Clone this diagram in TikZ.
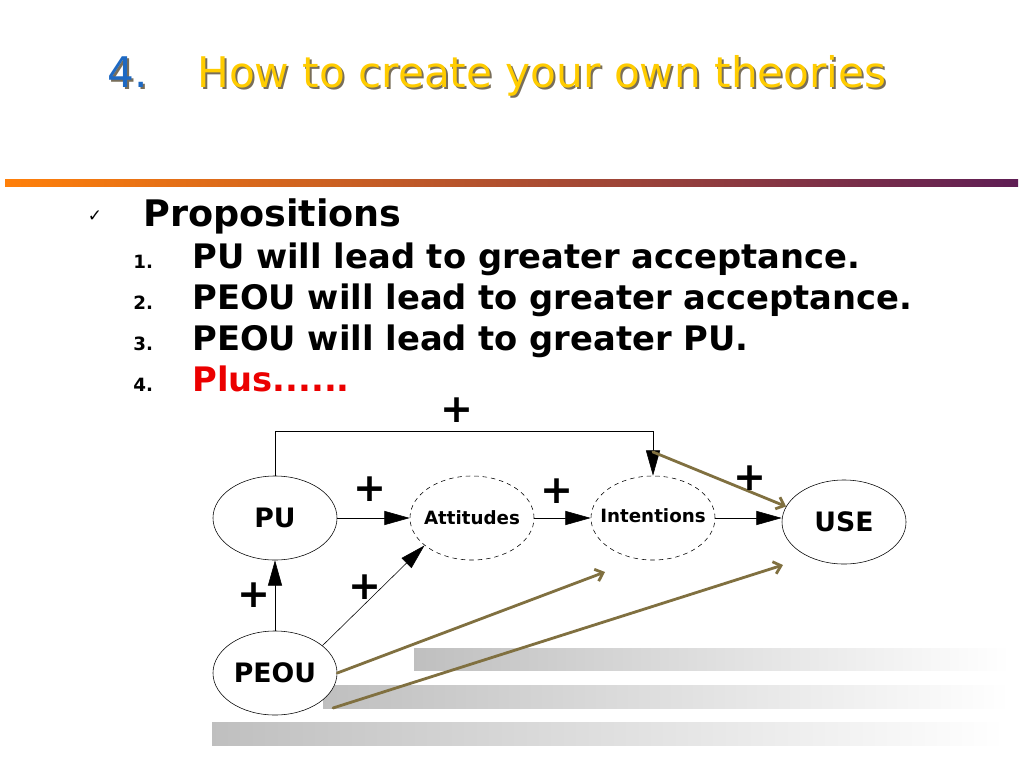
\documentclass[tikz,border=0pt]{standalone}
\usepackage{fontspec}
\setmainfont{DejaVu Sans}
\usetikzlibrary{arrows.meta,shapes.geometric}
\definecolor{titleyellow}{RGB}{255,204,0}
\definecolor{numblue}{RGB}{30,105,195}
\definecolor{shadowgray}{RGB}{120,110,90}
\definecolor{lineorange}{RGB}{255,128,10}
\definecolor{linemid}{RGB}{190,90,70}
\definecolor{linepurple}{RGB}{95,30,85}
\definecolor{arrowolive}{RGB}{128,112,64}
\definecolor{plusred}{RGB}{235,0,0}

\begin{document}
\begin{tikzpicture}[x=0.025cm,y=-0.025cm,>={Triangle[length=18pt,width=10pt]},line cap=round,
  ell/.style={ellipse,draw,minimum width=3.1cm,minimum height=2.1cm,inner sep=0pt,inner xsep=-15pt},
  big/.style={font=\bfseries\fontsize{19}{19}\selectfont},
  small/.style={font=\bfseries\fontsize{13}{13}\selectfont},
  plus/.style={font=\bfseries\fontsize{28}{28}\selectfont,inner sep=0pt},
  item/.style={anchor=base west,inner sep=0pt,font=\bfseries\fontsize{24}{24}\selectfont},
  num/.style={anchor=base west,inner sep=0pt,font=\bfseries\fontsize{13}{13}\selectfont},
  olive/.style={draw=arrowolive,line width=2pt,-{Straight Barb[length=5pt,width=9pt]}}]
\useasboundingbox (0,0) rectangle (1024,768);
% title
\node[anchor=base west,inner sep=0pt,text=shadowgray,font=\fontsize{30}{30}\selectfont] (titshadow) at (199,90) {How to create your own theories};
\node[anchor=base west,inner sep=0pt,text=titleyellow,font=\fontsize{30}{30}\selectfont] (title) at (197,88) {How to create your own theories};
\node[anchor=base west,inner sep=0pt,text=shadowgray,font=\fontsize{30}{30}\selectfont] (numshadow) at (109,90) {4.};
\node[anchor=base west,inner sep=0pt,text=numblue,font=\fontsize{30}{30}\selectfont] (titnum) at (107,88) {4.};
\shade[left color=lineorange,middle color=linemid,right color=linepurple] (5,179) rectangle (1018,186);
% propositions
\node[inner sep=0pt,font=\fontsize{12}{12}\selectfont] (tick) at (95,216) {✓};
\node[anchor=base west,inner sep=0pt,font=\bfseries\fontsize{26}{26}\selectfont] (props) at (143,226) {Propositions};
\node[num] (n1) at (133,268) {1.};
\node[item] (l1) at (192,268) {PU will lead to greater acceptance.};
\node[num] (n2) at (133,309) {2.};
\node[item] (l2) at (192,309) {PEOU will lead to greater acceptance.};
\node[num] (n3) at (133,350) {3.};
\node[item] (l3) at (192,350) {PEOU will lead to greater PU.};
\node[num] (n4) at (133,391) {4.};
\node[item,text=plusred] (l4) at (192,391) {Plus......};
% gray bars
\shade[left color=black!25,right color=white] (414,648) rectangle (1010,670);
\shade[left color=black!25,right color=white] (323,685) rectangle (1010,708);
\shade[left color=black!25,right color=white] (212,722) rectangle (1005,745);
% model
\node[ell,big] (pu) at (275,518) {PU};
\node[ell,small,dashed] (att) at (472,518) {Attitudes};
\node[ell,small,dashed] (int) at (653,518) {\raisebox{4pt}{Intentions}};
\node[ell,big] (use) at (844,522) {USE};
\node[ell,big,fill=white] (peou) at (275,673) {PEOU};
\draw[->] (pu) -- (att);
\draw[->] (att) -- (int);
\draw[->] (int.east) -- (int.east -| use.west);
\draw[->] (pu.north) -- ++(0,-44) coordinate (corner) -| (int.north);
\draw[->] (peou.north) -- (pu.south);
\draw[->] (peou.30) -- (att.210);
\coordinate (bend) at (653,452);
\coordinate (endA) at (605,572);
\coordinate (startB) at (333,708);
\coordinate (endB) at (783,565);
\draw[olive] (bend) -- (use.165);
\draw[olive] (peou.east) -- (endA);
\draw[olive] (startB) -- (endB);
\node[plus] (p1) at (457,410) {+};
\node[plus] (p2) at (370,489) {+};
\node[plus] (p3) at (557,491) {+};
\node[plus] (p4) at (750,478) {+};
\node[plus] (p5) at (254,595) {+};
\node[plus] (p6) at (365,587) {+};
\end{tikzpicture}
\end{document}
